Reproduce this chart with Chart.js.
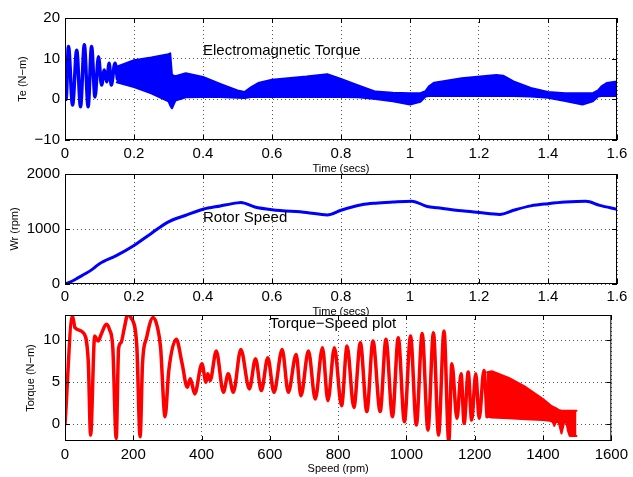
<!DOCTYPE html>
<html>
<head>
<meta charset="utf-8">
<script src="https://cdn.jsdelivr.net/npm/chart.js@4.4.1/dist/chart.umd.min.js"></script>
<style>
    html, body { margin: 0; padding: 0; background: #fff; }
    #fig { position: relative; width: 633px; height: 477px; overflow: hidden; }
    #fig canvas { position: absolute; left: 0; top: 0; }
</style>
</head>
<body>
<div id="fig">
    <canvas id="torqueChart" width="633" height="477"></canvas>
    <canvas id="speedChart" width="633" height="477"></canvas>
    <canvas id="tsChart" width="633" height="477"></canvas>
</div>
<script>
// ---- tick labels ----
const TIME_TICKS = [0, 0.2, 0.4, 0.6, 0.8, 1, 1.2, 1.4, 1.6];
const TE_TICKS = [-10, 0, 10, 20];
const WR_TICKS = [0, 1000, 2000];
const SPEED_TICKS = [0, 200, 400, 600, 800, 1000, 1200, 1400, 1600];
const TQ_TICKS = [0, 5, 10];

// ---- Electromagnetic torque (N-m) vs time (s) ----
// start-up oscillation, peaks and troughs
const teStartT   = [0, 0.003, 0.010, 0.022, 0.034, 0.045, 0.056, 0.067, 0.077, 0.087, 0.097, 0.106, 0.114, 0.121, 0.128, 0.134, 0.145, 0.152];
const teStartVal = [0, 0, 13.0, -1.4, 12.1, -1.8, 13.4, -1.8, 13.0, 0.6, 10.5, 3.5, 7.2, 4.3, 8.9, 3.5, 8.9, 5.0];
// ripple band afterwards: upper / lower envelope
const teBandT  = [0.15, 0.2, 0.25, 0.3, 0.305, 0.31, 0.32, 0.35, 0.4, 0.45, 0.5, 0.52, 0.54, 0.56, 0.6, 0.7, 0.76, 0.8, 0.85, 0.9, 0.95, 1.0, 1.03, 1.045, 1.055, 1.07, 1.15, 1.25, 1.27, 1.3, 1.35, 1.4, 1.45, 1.5, 1.53, 1.545, 1.555, 1.57, 1.6];
const teBandHi = [8.0, 9.6, 10.3, 11.1, 11.3, 6.0, 5.7, 6.4, 5.5, 3.8, 2.2, 1.8, 3.0, 4.0, 4.8, 5.6, 6.2, 5.0, 3.4, 1.9, 1.6, 1.5, 1.5, 2.0, 3.2, 4.1, 5.2, 6.0, 5.8, 4.4, 2.8, 1.8, 1.5, 1.5, 1.5, 2.2, 3.2, 4.0, 4.4];
const teBandLo = [4.2, 3.0, 1.5, -0.5, -1.5, -2.2, -0.3, 0.5, 0.6, 0.6, 0.4, 0.3, 0.6, 0.6, 0.6, 0.6, 0.6, 0.6, 0.5, 0.1, -0.5, -1.3, -0.6, 0.7, 0.8, 0.8, 0.8, 0.8, 0.8, 0.8, 0.7, 0.4, -0.4, -1.3, -0.5, 0.7, 0.8, 0.8, 0.8];

// ---- Rotor speed (rpm) vs time (s) ----
const wrT   = [0, 0.02, 0.04, 0.06, 0.08, 0.1, 0.15, 0.2, 0.25, 0.3, 0.35, 0.4, 0.45, 0.5, 0.51, 0.55, 0.6, 0.7, 0.76, 0.8, 0.86, 0.9, 0.95, 1.005, 1.05, 1.08, 1.15, 1.2, 1.26, 1.3, 1.35, 1.4, 1.45, 1.51, 1.55, 1.6];
const wrRpm = [0, 50, 120, 190, 270, 370, 520, 700, 920, 1130, 1250, 1360, 1420, 1475, 1480, 1400, 1350, 1300, 1255, 1340, 1440, 1470, 1490, 1505, 1410, 1385, 1330, 1300, 1265, 1340, 1420, 1460, 1490, 1505, 1430, 1360];

// ---- Torque (N-m) vs speed (rpm) ----
const tsSpeed  = [0, 22, 29, 53, 68, 75, 87, 97, 106, 121, 130, 140, 150, 157, 164, 174, 184, 193, 210, 220, 227, 239, 258, 271, 280, 293, 304, 326, 343, 358, 367, 380, 401, 413, 418, 425, 443, 464, 478, 493, 515, 540, 558, 575, 594, 612, 636, 654, 677, 691, 713, 733, 754, 770, 789, 810, 826, 846, 865, 884, 902, 923, 940, 959, 976, 994, 1012, 1029, 1046, 1063, 1079, 1094, 1110, 1124, 1133, 1148, 1160, 1169, 1181, 1191, 1203, 1213, 1227, 1236];
const tsTorque = [0, 12.9, 11.5, 10.9, 7.6, -1.3, 10.5, 9.9, 10.7, 11.9, 11.3, 9.1, -1.7, 9.0, 9.7, 11.5, 13.1, 12.7, 9.5, -1.5, 7.2, 10.3, 12.7, 11.5, 9.1, 0.9, 6.4, 10.1, 7.2, 4.4, 5.4, 3.6, 7.2, 5.0, 6.0, 5.2, 8.7, 3.8, 6.0, 3.8, 8.9, 4.2, 7.8, 4.0, 7.9, 3.8, 8.9, 3.8, 8.3, 3.4, 8.7, 3.0, 9.1, 2.8, 9.1, 2.2, 9.3, 2.0, 9.7, 1.5, 9.9, 1.5, 10.1, 0.9, 10.3, 0.3, 10.5, -0.1, 10.8, -0.7, 10.9, -1.3, 11.1, -2.1, 7.2, 0.7, 6.0, 0.1, 6.2, 0.5, 6.0, 0.7, 6.4, 0.9];
// ripple band near synchronous speed
const tsBandSpeed = [1236, 1250, 1300, 1350, 1400, 1420, 1428, 1433, 1438, 1446, 1454, 1462, 1468, 1473, 1478, 1490, 1498];
const tsBandHi    = [6.2, 6.3, 5.5, 4.4, 3.0, 2.3, 2.1, 2.0, 1.9, 1.7, 1.6, 1.6, 1.6, 1.6, 1.6, 1.6, 1.6];
const tsBandLo    = [0.9, 0.8, 0.7, 0.6, 0.5, 0.4, 0.3, -0.2, 0.3, 0.2, -1.1, 0.2, 0.3, -0.8, -1.4, -1.4, -1.4];

const FONT = "'Liberation Sans', Arial, Helvetica, sans-serif";
const BLUE = "#0000ff";
const RED = "#ff0000";
const GRID = "#555";
const TICK_LEN = 5;

Chart.defaults.font.family = FONT;
Chart.defaults.color = "#000";

function toPoints(xs, ys) {
    return xs.map((x, i) => ({ x: x, y: ys[i] }));
}

function fmtTick(v) {
    return String(Math.round(v * 10) / 10).replace("-", "\u2212");
}

// white axes background, box, inward ticks, and the in-plot caption
const matlabAxes = {
    id: "matlabAxes",
    beforeDraw(chart) {
        const a = chart.chartArea;
        const ctx = chart.ctx;
        ctx.save();
        ctx.fillStyle = "#fff";
        ctx.fillRect(a.left, a.top, a.right - a.left, a.bottom - a.top);
        ctx.restore();
    },
    afterDatasetsDraw(chart, args, opts) {
        const { ctx, chartArea: a, scales } = chart;
        const x = scales.x, y = scales.y;
        ctx.save();
        ctx.strokeStyle = "#000";
        ctx.lineWidth = 1;
        ctx.beginPath();
        x.ticks.forEach(t => {
            const px = Math.round(x.getPixelForValue(t.value)) + 0.5;
            ctx.moveTo(px, a.bottom); ctx.lineTo(px, a.bottom - TICK_LEN);
            ctx.moveTo(px, a.top); ctx.lineTo(px, a.top + TICK_LEN);
        });
        y.ticks.forEach(t => {
            const py = Math.round(y.getPixelForValue(t.value)) + 0.5;
            ctx.moveTo(a.left, py); ctx.lineTo(a.left + TICK_LEN, py);
            ctx.moveTo(a.right, py); ctx.lineTo(a.right - TICK_LEN, py);
        });
        ctx.stroke();
        ctx.strokeRect(a.left + 0.5, a.top + 0.5, a.right - a.left - 1, a.bottom - a.top - 1);

        if (opts && opts.text) {
            ctx.fillStyle = "#000";
            ctx.font = "15px " + FONT;
            ctx.textAlign = "left";
            ctx.textBaseline = "middle";
            ctx.fillText(opts.text, x.getPixelForValue(opts.x), y.getPixelForValue(opts.y));
        }
        ctx.restore();
    }
};
Chart.register(matlabAxes);

function makePanel(canvasId, cfg) {
    return new Chart(document.getElementById(canvasId), {
        type: "line",
        data: { datasets: cfg.datasets },
        options: {
            responsive: false,
            animation: false,
            devicePixelRatio: 1,
            events: [],
            layout: {
                autoPadding: false,
                padding: { left: 0, right: 16, top: cfg.top, bottom: 477 - cfg.bottom - cfg.xHeight }
            },
            elements: {
                point: { radius: 0 },
                line: { borderJoinStyle: "round", borderCapStyle: "round" }
            },
            plugins: {
                legend: { display: false },
                tooltip: { enabled: false },
                matlabAxes: cfg.caption
            },
            scales: {
                x: {
                    type: "linear",
                    min: cfg.xMin,
                    max: cfg.xMax,
                    afterBuildTicks: s => { s.ticks = cfg.xTicks.map(v => ({ value: v })); },
                    afterFit: s => { s.height = cfg.xHeight; },
                    grid: { color: GRID, drawTicks: false },
                    border: { display: false, dash: [1, 3] },
                    ticks: { font: { size: 15 }, padding: cfg.xPad, autoSkip: false, maxRotation: 0, minRotation: 0, callback: fmtTick },
                    title: { display: true, text: cfg.xTitle, font: { size: 11 }, padding: 0 }
                },
                y: {
                    type: "linear",
                    min: cfg.yMin,
                    max: cfg.yMax,
                    afterBuildTicks: s => { s.ticks = cfg.yTicks.map(v => ({ value: v })); },
                    afterFit: s => { s.width = 65; },
                    grid: { color: GRID, drawTicks: false },
                    border: { display: false, dash: [1, 3] },
                    ticks: { font: { size: 15 }, padding: 5, callback: fmtTick },
                    title: { display: true, text: cfg.yTitle, font: { size: 11 }, padding: { top: cfg.yTitlePad, bottom: 0 } }
                }
            }
        }
    });
}

// Electromagnetic Torque
makePanel("torqueChart", {
    top: 18, bottom: 140, xHeight: 36, xPad: 5,
    xMin: 0, xMax: 1.6, xTicks: TIME_TICKS, xTitle: "Time (secs)",
    yMin: -10, yMax: 20, yTicks: TE_TICKS, yTitle: "Te (N\u2212m)", yTitlePad: 16,
    caption: { text: "Electromagnetic Torque", x: 0.4, y: 12 },
    datasets: [
        { data: toPoints(teStartT, teStartVal), borderColor: BLUE, borderWidth: 3.5, cubicInterpolationMode: "monotone", fill: false, clip: 0 },
        { data: toPoints(teBandT, teBandHi), borderColor: BLUE, backgroundColor: BLUE, borderWidth: 2, fill: "+1", clip: 0 },
        { data: toPoints(teBandT, teBandLo), borderColor: BLUE, borderWidth: 2, fill: false, clip: 0 }
    ]
});

// Rotor Speed
makePanel("speedChart", {
    top: 174, bottom: 284, xHeight: 35, xPad: 4,
    xMin: 0, xMax: 1.6, xTicks: TIME_TICKS, xTitle: "Time (secs)",
    yMin: 0, yMax: 2000, yTicks: WR_TICKS, yTitle: "Wr (rpm)", yTitlePad: 8,
    caption: { text: "Rotor Speed", x: 0.4, y: 1200 },
    datasets: [
        { data: toPoints(wrT, wrRpm), borderColor: BLUE, borderWidth: 3, cubicInterpolationMode: "monotone", fill: false, clip: 0 }
    ]
});

// Torque-Speed plot
makePanel("tsChart", {
    top: 315, bottom: 441, xHeight: 35, xPad: 5,
    xMin: 0, xMax: 1600, xTicks: SPEED_TICKS, xTitle: "Speed (rpm)",
    yMin: -2, yMax: 13, yTicks: TQ_TICKS, yTitle: "Torque (N\u2212m)", yTitlePad: 24,
    caption: { text: "Torque\u2212Speed plot", x: 600, y: 12 },
    datasets: [
        { data: toPoints(tsSpeed, tsTorque), borderColor: RED, borderWidth: 3.5, cubicInterpolationMode: "monotone", fill: false, clip: 0 },
        { data: toPoints(tsBandSpeed, tsBandHi), borderColor: RED, backgroundColor: RED, borderWidth: 2, fill: "+1", clip: 0 },
        { data: toPoints(tsBandSpeed, tsBandLo), borderColor: RED, borderWidth: 2, fill: false, clip: 0 }
    ]
});
</script>
</body>
</html>
